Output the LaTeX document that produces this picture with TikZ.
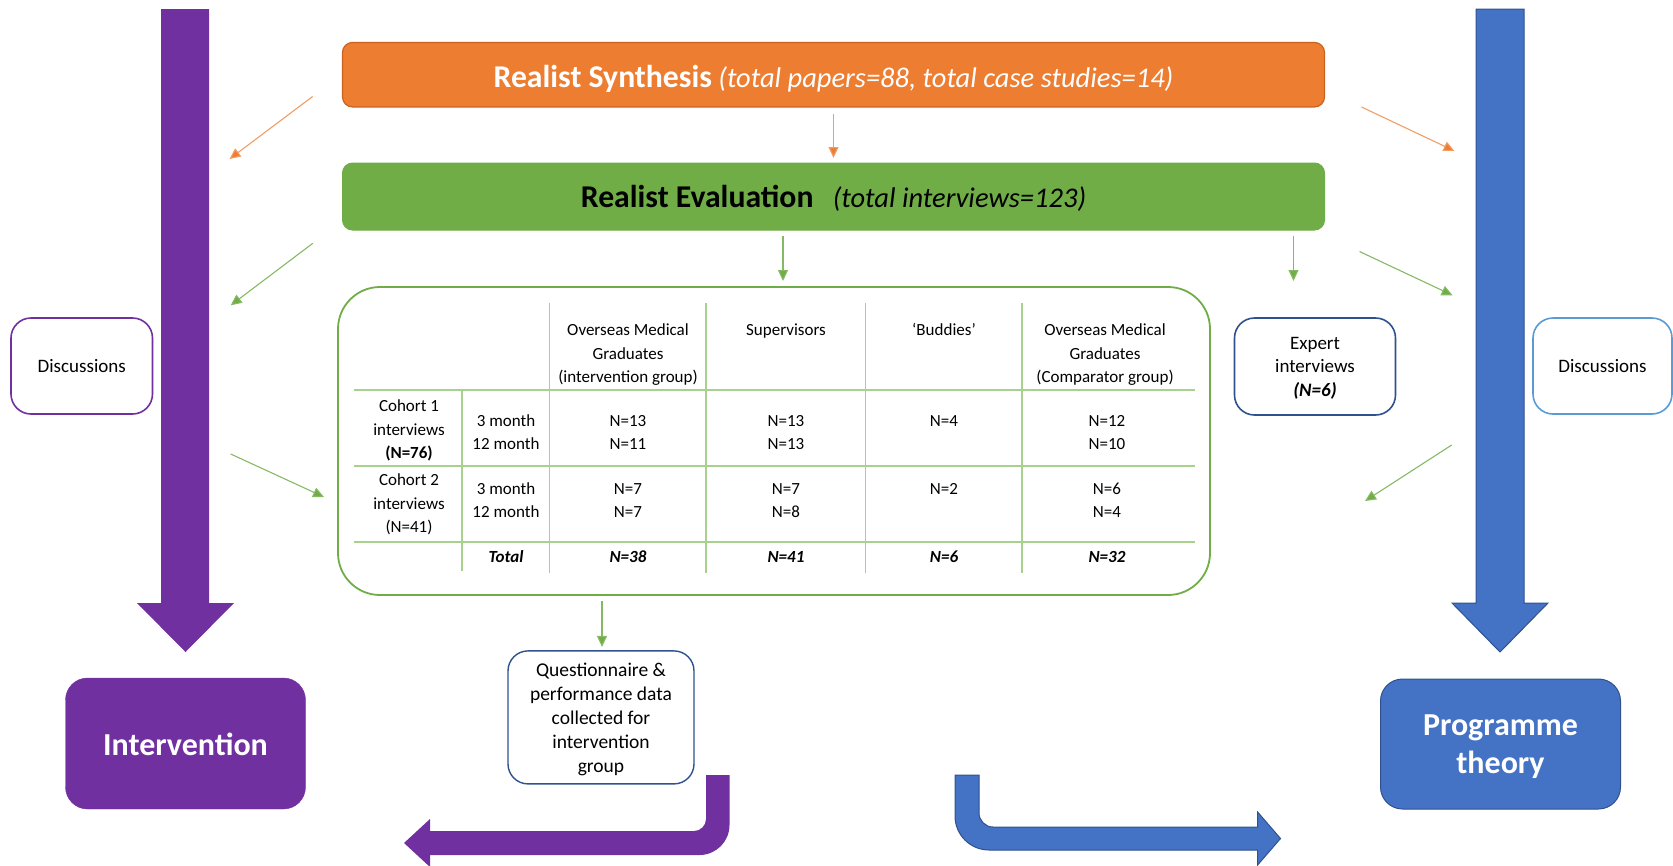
\documentclass[tikz,border=0pt]{standalone}
\usepackage{fontspec}
\setmainfont{Carlito}
\usetikzlibrary{arrows.meta}
\definecolor{orng}{HTML}{ED7D31}
\definecolor{orngdk}{HTML}{C9621F}
\definecolor{grn}{HTML}{70AD47}
\definecolor{grnlt}{HTML}{A9D18E}
\definecolor{purp}{HTML}{7030A0}
\definecolor{blu}{HTML}{4472C4}
\definecolor{bludk}{HTML}{2F528F}
\definecolor{blult}{HTML}{5B9BD5}
\newcommand\tblfont{\fontsize{17}{23.5}\selectfont}
\newcommand\smfont{\fontsize{19}{23.5}\selectfont}
\begin{document}
\begin{tikzpicture}[x=1pt,y=-1pt,
  every node/.style={inner sep=0pt, outer sep=0pt},
  outlinebox/.style={draw, line width=1.6pt, fill=white, rounded corners=20pt, align=center, font=\smfont},
  bigbox/.style={rounded corners=22pt},
  bigtext/.style={align=center, text=white, font=\fontsize{32}{38}\selectfont\bfseries},
  tcell/.style={anchor=base, align=center, font=\tblfont},
  thin arrow/.style={line width=1.1pt, -{Triangle[length=11pt,width=10pt]}},
  oarrow/.style={thin arrow, draw=orng!75, -{Triangle[length=11pt,width=10pt,fill=orng]}},
  garrow/.style={thin arrow, draw=grn!85, -{Triangle[length=11pt,width=10pt,fill=grn]}},
  gridline/.style={draw=grnlt, line width=1.4pt}]
\useasboundingbox (0,0) rectangle (1673,865);

% big vertical arrows
\fill[purp] (161,9) -- (209,9) -- (209,603) -- (234,603) -- (185.5,652) -- (137,603) -- (161,603) -- cycle;
\filldraw[fill=blu, draw=bludk, line width=1pt] (1476,9) -- (1524,9) -- (1524,603) -- (1548,603) -- (1500,652) -- (1452,603) -- (1476,603) -- cycle;

% top boxes
\node[draw=orngdk, fill=orng, line width=1.2pt, rounded corners=10pt, minimum width=982pt, minimum height=64.5pt, text=white, text height=26pt, text depth=1.4pt]
  (synth) at (833.5,74.7) {\fontsize{31.7}{36}\selectfont\bfseries Realist Synthesis\fontsize{28.5}{34}\selectfont\mdseries\itshape\ (total papers=88, total case studies=14)};
\node[draw=grn, fill=grn, line width=1pt, rounded corners=10pt, minimum width=982pt, minimum height=67pt, text=black, text height=24pt, text depth=2.4pt]
  (eval) at (833.5,196.5) {\fontsize{31.7}{36}\selectfont\bfseries Realist Evaluation\fontsize{28.5}{34}\selectfont\mdseries\itshape\ \ \ (total interviews=123)};

% table frame
\node[draw=grn, line width=1.8pt, rounded corners=42pt, minimum width=872pt, minimum height=308pt] (tab) at (774,441) {};
\draw[gridline] (354,390) -- (1195,390);
\draw[gridline] (354,466) -- (1195,466);
\draw[gridline] (354,542) -- (1195,542);
\draw[gridline] (462,391) -- (462,571);
\draw[gridline] (549.6,303) -- (549.6,573);
\draw[gridline] (706,303) -- (706,573);
\draw[gridline] (865.4,303) -- (865.4,573);
\draw[gridline] (1022,303) -- (1022,573);

% header (base = baseline of last line)
\node[tcell] (h2) at (628,382.5) {Overseas Medical\\Graduates\\(intervention group)};
\node[tcell] (h3) at (786,335.5) {Supervisors};
\node[tcell] (h4) at (944,335.5) {‘Buddies’};
\node[tcell] (h5) at (1105,382.5) {Overseas Medical\\Graduates\\(Comparator group)};
% cohort 1
\node[tcell] (r1) at (409,458.5) {Cohort 1\\interviews\\\textbf{(N=76)}};
\node[tcell] (m1) at (506,449.5) {3 month\\12 month};
\node[tcell] (d12) at (628,449.5) {N=13\\N=11};
\node[tcell] (d13) at (786,449.5) {N=13\\N=13};
\node[tcell] (d14) at (944,426) {N=4};
\node[tcell] (d15) at (1107,449.5) {N=12\\N=10};
% cohort 2
\node[tcell] (r2) at (409,532.5) {Cohort 2\\interviews\\(N=41)};
\node[tcell] (m2) at (506,517.7) {3 month\\12 month};
\node[tcell] (d22) at (628,517.7) {N=7\\N=7};
\node[tcell] (d23) at (786,517.7) {N=7\\N=8};
\node[tcell] (d24) at (944,494.2) {N=2};
\node[tcell] (d25) at (1107,517.7) {N=6\\N=4};
% totals
\node[tcell] (t1) at (506,562.5) {\textbf{\textit{Total}}};
\node[tcell] (t2) at (628,562.5) {\textbf{\textit{N=38}}};
\node[tcell] (t3) at (786,562.5) {\textbf{\textit{N=41}}};
\node[tcell] (t4) at (944,562.5) {\textbf{\textit{N=6}}};
\node[tcell] (t5) at (1107,562.5) {\textbf{\textit{N=32}}};

% side boxes
\node[outlinebox, draw=purp, minimum width=141.5pt, minimum height=96pt] (discL) at (81.75,366) {Discussions};
\node[outlinebox, draw=blult, minimum width=139pt, minimum height=96pt] (discR) at (1602.5,366) {Discussions};
\node[outlinebox, draw=bludk, minimum width=161pt, minimum height=97pt] (expert) at (1315,366.5) {};
\node[anchor=base, align=center, font=\smfont] (experttxt) at (1315,396) {Expert\\interviews\\\textbf{\textit{(N=6)}}};
\node[outlinebox, draw=bludk, line width=1.4pt, minimum width=186pt, minimum height=133pt] (quest) at (601,717.4) {};
\node[anchor=base, align=center, font=\fontsize{19.5}{23.8}\selectfont] (questtxt) at (601,772) {Questionnaire \&\\performance data\\collected for\\intervention\\group};

% bottom boxes
\node[bigbox, fill=purp, draw=purp, minimum width=240pt, minimum height=131pt] (interv) at (185.5,743.5) {};
\node[bigtext, anchor=base] (intervtxt) at (185.5,755) {Intervention};
\node[bigbox, fill=blu, draw=bludk, line width=1pt, minimum width=240pt, minimum height=130pt] (prog) at (1500.5,744) {};
\node[bigtext, anchor=base] (progtxt) at (1500.5,773) {Programme\\theory};

% bent arrows
\fill[purp] (706,775) -- (729.5,775) -- (729.5,825) .. controls (729.5,841.6) and (716.1,855) .. (699.5,855)
  -- (430,855) -- (430,867) -- (404,843) -- (430,819) -- (430,831) -- (694,831)
  .. controls (700.6,831) and (706,825.6) .. (706,819) -- cycle;
\filldraw[fill=blu, draw=bludk, line width=1pt] (955,775) -- (979,775) -- (979,813) .. controls (979,820.7) and (985.3,827) .. (993,827)
  -- (1257.6,827) -- (1257.6,812) -- (1280.5,838.5) -- (1257.6,865) -- (1257.6,850) -- (989,850)
  .. controls (970.2,850) and (955,834.8) .. (955,816) -- cycle;

% connector coordinates
\coordinate (oLs) at (312.6,96.5);   \coordinate (oLe) at (229.5,159);
\coordinate (oRs) at (1361.5,107);   \coordinate (oRe) at (1454.5,151);
\coordinate (gLs) at (312.8,243.3);  \coordinate (gLe) at (230.7,305.3);
\coordinate (gRs) at (1359.5,251.5); \coordinate (gRe) at (1452.6,295.3);
\coordinate (gLLs) at (230.7,454);   \coordinate (gLLe) at (324,497);
\coordinate (gRLs) at (1451.7,445);  \coordinate (gRLe) at (1365,501);
\coordinate (gx1) at (783,0);
\coordinate (gx2) at (1293.5,0);
\coordinate (gx3) at (602,0);

% connectors
\draw[oarrow, shorten <=7pt, shorten >=5pt] (synth) -- (eval);
\draw[oarrow] (oLs) -- (oLe);
\draw[oarrow] (oRs) -- (oRe);
\draw[garrow] (gLs) -- (gLe);
\draw[garrow] (gRs) -- (gRe);
\draw[garrow] (gLLs) -- (gLLe);
\draw[garrow] (gRLs) -- (gRLe);
\draw[garrow, shorten <=6pt, shorten >=6pt] (eval.south -| gx1) -- (tab.north -| gx1);
\draw[garrow, shorten <=6pt, shorten >=37pt] (eval.south -| gx2) -- (expert.north -| gx2);
\draw[garrow, shorten <=6pt, shorten >=4pt] (tab.south -| gx3) -- (quest.north -| gx3);
\end{tikzpicture}
\end{document}
